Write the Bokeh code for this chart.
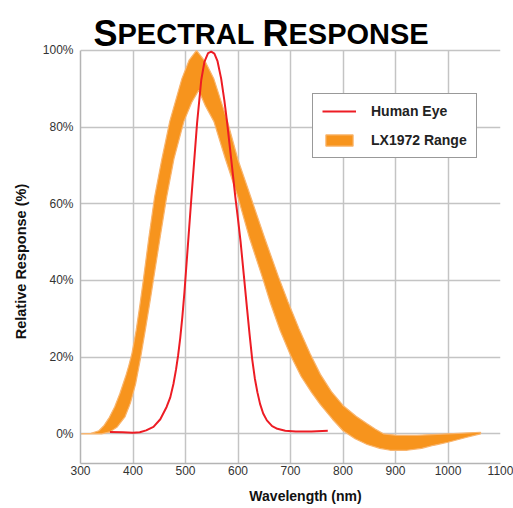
from bokeh.plotting import figure
from bokeh.models import Label, Legend, LegendItem, FixedTicker, PrintfTickFormatter, Range1d
from bokeh.embed import file_html
from bokeh.resources import INLINE
import math

FONT = "Liberation Sans"

# ---- data ----
x_ticks = [300, 400, 500, 600, 700, 800, 900, 1000, 1100]
y_ticks = [0, 20, 40, 60, 80, 100]

# Human eye (photopic) response, %
eye_nm = [356, 380, 400, 413, 425, 439, 452, 464, 471, 477, 482, 486, 490, 494, 498,
          505, 511, 517, 522, 530, 536, 543, 549, 555, 561, 568, 574, 579, 587,
          595, 600, 605, 611, 617, 622, 627, 632, 637, 642, 648, 655, 665, 675, 690, 710, 740, 771]
eye_pct = [0.5, 0.4, 0.3, 0.4, 0.9, 1.8, 3.8, 7.0, 9.5, 13.0, 16.8, 20.5, 25.0, 30.5, 37.0,
           50.0, 61.2, 72.0, 81.0, 92.3, 97.0, 99.3, 99.7, 99.2, 97.2, 92.6, 87.0, 81.5, 71.7,
           61.7, 56.0, 50.0, 41.5, 33.0, 26.0, 19.5, 14.5, 10.8, 7.8, 5.3, 3.5, 2.0, 1.3, 0.8, 0.6, 0.6, 0.8]

# LX1972 range, upper boundary
lx_hi_nm = [300, 320, 335, 345, 355, 365, 375, 386, 392, 398, 406, 413, 420, 430, 441,
            455, 470, 493, 507, 521, 538, 554, 580, 600, 625, 651, 677, 695, 716,
            737, 757, 778, 800, 825, 846, 862, 877, 903, 941, 970, 1000, 1030, 1062]
lx_hi_pct = [0.0, 0.1, 0.8, 2.2, 4.3, 7.0, 10.5, 15.0, 17.8, 21.0, 27.0, 33.5, 40.5, 51.0, 61.7,
             71.7, 81.5, 92.6, 97.5, 100.0, 97.0, 92.6, 81.5, 71.5, 61.5, 51.0, 41.0, 34.5, 27.5,
             21.0, 15.5, 11.0, 7.4, 4.6, 2.6, 1.2, 0.0, -0.4, -0.4, -0.2, 0.0, 0.2, 0.4]

# LX1972 range, lower boundary
lx_lo_nm = [300, 340, 356, 370, 385, 395, 405, 414, 424, 433, 441, 452, 464, 478,
            497, 512, 525, 538, 554, 576, 600, 622, 646, 662, 680, 700, 720, 740,
            757, 780, 800, 823, 846, 870, 890, 922, 950, 973, 1000, 1036, 1062]
lx_lo_pct = [0.0, 0.0, 0.5, 1.8, 4.5, 8.0, 13.0, 19.5, 27.5, 35.0, 42.0, 51.5, 61.7, 71.7,
             81.5, 86.5, 89.6, 85.5, 81.5, 71.7, 61.7, 51.0, 41.0, 34.0, 27.0, 20.5, 15.0, 10.8,
             7.6, 3.8, 0.8, -1.3, -2.8, -3.8, -4.3, -4.3, -3.8, -3.0, -2.2, -0.9, 0.0]

series_names = ["Human Eye", "LX1972 Range"]
title_parts = ["S", "PECTRAL", "R", "ESPONSE"]
x_title = "Wavelength (nm)"
y_title = "Relative Response (%)"

Y_LO = -7.75      # axis bottom (below 0 %)
Y_TOP = 100       # top of the plotted area
Y_HI = 113.04     # room above the plot for the small-caps heading

# ---- figure ----
p = figure(width=513, height=508, output_backend="svg", toolbar_location=None,
           x_range=Range1d(300, 1100), y_range=Range1d(Y_LO, Y_HI),
           min_border_left=80, min_border_right=13, min_border_top=0, min_border_bottom=45)
p.outline_line_color = None

for ax in (p.xaxis[0], p.yaxis[0]):
    ax.axis_line_color = "#b4b4b4"
    ax.axis_line_width = 1.5
    ax.major_tick_line_color = None
    ax.major_tick_out = 0
    ax.major_tick_in = 0
    ax.minor_tick_line_color = None
    ax.minor_tick_out = 0
    ax.major_label_text_font = FONT
    ax.major_label_text_font_size = "12px"
    ax.major_label_text_color = "#333333"

p.xaxis.ticker = FixedTicker(ticks=x_ticks)
p.yaxis.ticker = FixedTicker(ticks=y_ticks)
p.yaxis.bounds = (Y_LO, Y_TOP)
p.yaxis.formatter = PrintfTickFormatter(format="%d%%")
p.xaxis.major_label_standoff = 2
p.yaxis.major_label_standoff = 7

p.ygrid.grid_line_color = "#c4c4c4"
p.ygrid.grid_line_width = 1.5
xg = p.xgrid[0]
if "cross_bounds" in xg.properties():
    xg.cross_bounds = (Y_LO, Y_TOP)
    xg.grid_line_color = "#c4c4c4"
    xg.grid_line_width = 1.5
else:
    xg.visible = False
    p.segment(x0=x_ticks, y0=[Y_LO] * len(x_ticks), x1=x_ticks, y1=[Y_TOP] * len(x_ticks),
              line_color="#c4c4c4", line_width=1.5, level="underlay")

band_x = lx_hi_nm + lx_lo_nm[::-1]
band_y = lx_hi_pct + lx_lo_pct[::-1]
band = p.patch(band_x, band_y, fill_color="#F7941D", line_color="#F9B56E", line_width=1.2)

eye = p.line(eye_nm, eye_pct, line_color="#ED1C24", line_width=2)

legend = Legend(items=[LegendItem(label=series_names[0], renderers=[eye]),
                       LegendItem(label=series_names[1], renderers=[band])],
                location=(232, 305))
legend.border_line_color = "#333333"
legend.border_line_width = 1
legend.background_fill_color = "white"
legend.background_fill_alpha = 1
legend.label_text_font = FONT
legend.label_text_font_size = "14px"
legend.label_text_font_style = "bold"
legend.label_text_color = "#222222"
legend.glyph_width = 34
legend.glyph_height = 14
legend.label_height = 14
legend.label_standoff = 15
legend.spacing = 13
legend.padding = 9
legend.margin = 0
p.add_layout(legend, "center")

# axis titles
p.add_layout(Label(x=225, y=-2, x_units="screen", y_units="screen", text=x_title,
                   text_font=FONT, text_font_size="14px", text_font_style="bold",
                   text_color="#111111", text_align="center", text_baseline="middle"),
             "below")
p.add_layout(Label(x=-3, y=202, x_units="screen", y_units="screen", text=y_title,
                   angle=math.pi / 2,
                   text_font=FONT, text_font_size="14.5px", text_font_style="bold",
                   text_color="#111111", text_align="center", text_baseline="middle"),
             "left")

# small-caps heading
title_x = [13, 37, 182, 208]
title_size = ["36px", "29px", "36px", "29px"]
for t, xx, fs in zip(title_parts, title_x, title_size):
    p.add_layout(Label(x=xx, y=430, x_units="screen", y_units="screen", text=t,
                       text_font=FONT, text_font_size=fs, text_font_style="bold",
                       text_color="#000000", text_align="left", text_baseline="alphabetic"))

open("out.html", "w").write(file_html(p, INLINE))
